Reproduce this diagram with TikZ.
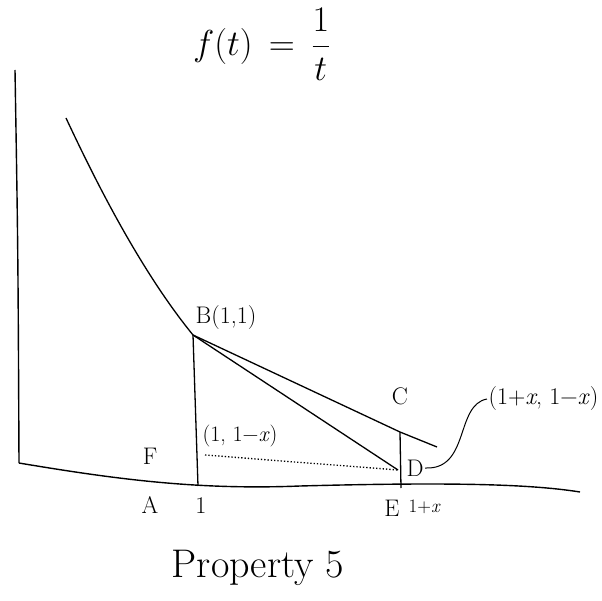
\documentclass[tikz,border=0pt]{standalone}
\usepackage{fontspec}
\usepackage{amsmath}
\begin{document}
\begin{tikzpicture}[x=1pt,y=-1pt,line width=1.3pt,
   lbl/.style={font=\fontsize{24}{27}\selectfont,inner sep=1pt},
   sml/.style={font=\fontsize{19}{22}\selectfont,inner sep=1pt},
   axe/.style={line width=1.4pt}]
   \useasboundingbox (0,0) rectangle (602,601);
   \coordinate (O) at (19,463);
   \coordinate (Ytop) at (15,70);
   \coordinate (Xend) at (580,492);
   \coordinate (Top) at (66,118);
   \coordinate (B) at (193,335);
   \coordinate (C) at (400,432);
   \coordinate (Cend) at (437,447);
   \coordinate (D) at (398,470);
   \coordinate (Bfoot) at (198,486);
   \coordinate (Efoot) at (401,488);
   \coordinate (G) at (205,455);
   \draw[axe] (Ytop) .. controls (18,250) .. (O);
   \draw[axe] (O) .. controls (120,480) and (200,490) .. (300,486) .. controls (450,482) and (530,484) .. (Xend);
   \draw (Top) .. controls (95,180) and (140,270) .. (B) -- (C) -- (Cend);
   \draw (B) -- (D);
   \draw (B) -- (Bfoot);
   \draw (C) -- (Efoot);
   \draw[dotted] (G) -- (D);
   \node[font=\fontsize{24.88}{30}\selectfont,scale=1.45] (title) at (262,44) {$f(t)\,=\,\dfrac{1}{t}$};
   \node[lbl] (Blbl) at (226,318) {B(1,1)};
   \node[lbl] (Clbl) at (400,396) {C};
   \node[lbl] (Dlbl) at (415,468) {D};
   \node[lbl,anchor=east] (tag) at (600,399) {(1+\textit{x}, 1−\textit{x})};
   \node[lbl] (Flbl) at (150,456) {F};
   \node[font=\fontsize{22}{25}\selectfont,inner sep=1pt] (Glbl) at (240,436) {(1, 1−\textit{x})};
   \node[lbl] (Albl) at (150,505) {A};
   \node[lbl] (one) at (201,506) {1};
   \node[lbl] (Elbl) at (392,508) {E};
   \node[sml,anchor=west] (Xlbl) at (407,507) {1+\textit{x}};
   \node[font=\fontsize{40}{46}\selectfont] (prop) at (258,568) {Property 5};
   \draw[line width=1pt] (Dlbl.east) .. controls (470,470) and (455,405) .. (tag.west);
\end{tikzpicture}
\end{document}
